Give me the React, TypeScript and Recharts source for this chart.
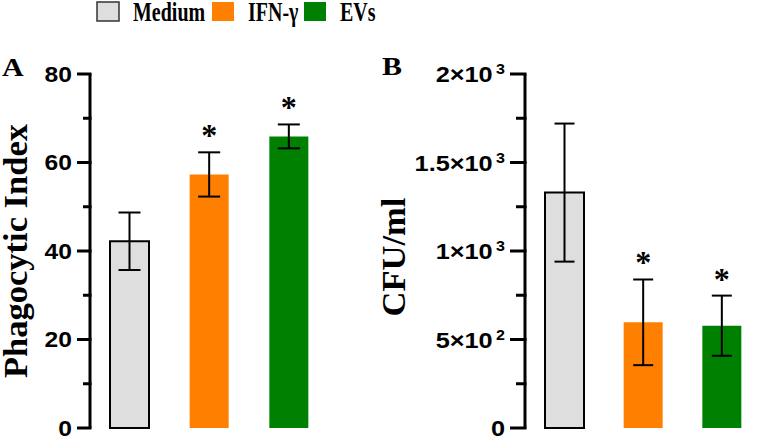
import React from 'react';
import { BarChart, Bar, XAxis, YAxis, ErrorBar, Cell, LabelList } from 'recharts';

const groups = ['Medium', 'IFN-γ', 'EVs'];
const colors = ['#dedede', '#ff8000', '#008000'];
const strokes = ['#000000', 'none', 'none'];

const phagoMean = [42.2, 57.3, 65.9];
const phagoSD = [6.5, 5.0, 2.7];
const phagoSig = [false, true, true];

const cfuMean = [1330, 597, 578];
const cfuSD = [390, 242, 170];
const cfuSig = [false, true, true];

const phagoTicks = [0, 10, 20, 30, 40, 50, 60, 70, 80];
const phagoMajor = [0, 20, 40, 60, 80];
const phagoLabels = ['0', '20', '40', '60', '80'];

const cfuTicks = [0, 250, 500, 750, 1000, 1250, 1500, 1750, 2000];
const cfuMajor = [0, 500, 1000, 1500, 2000];
const cfuBase = ['0', '5×10', '1×10', '1.5×10', '2×10'];
const cfuExp = ['', '2', '3', '3', '3'];

const dataA = groups.map((g, i) => ({ name: g, mean: phagoMean[i], sd: phagoSD[i] }));
const dataB = groups.map((g, i) => ({ name: g, mean: cfuMean[i], sd: cfuSD[i] }));

const SANS = '"Liberation Sans", Arial, sans-serif';
const SERIF = '"Liberation Serif", "Times New Roman", serif';

function makeTick(major: number[], longLen: number, shortLen: number, kind: 'A' | 'B') {
  return (props: any) => {
    const x = Number(props.x);
    const y = Number(props.y);
    const v = props.payload ? props.payload.value : 0;
    const mi = major.indexOf(v);
    const isMajor = mi >= 0;
    const len = isMajor ? longLen : shortLen;
    const tx = x - longLen - 5;
    const textStyle: React.CSSProperties = { fontFamily: SANS, fontWeight: 700, fill: '#000' };
    return (
      <g>
        <rect x={x - len} y={y - 1.5} width={len + 1.5} height={3} fill="#000" />
        {isMajor && kind === 'A' && (
          <text transform={`translate(${tx}, ${y}) scale(1.12, 1)`} dy="0.36em" textAnchor="end" style={{ ...textStyle, fontSize: 22 }}>
            {phagoLabels[mi]}
          </text>
        )}
        {isMajor && kind === 'B' && (
          <text transform={`translate(${tx}, ${y}) scale(1.15, 1)`} dy="0.37em" textAnchor="end" style={{ ...textStyle, fontSize: 22 }}>
            <tspan>{cfuBase[mi]}</tspan>
            {cfuExp[mi] && (
              <tspan dx={3} dy={-8} style={{ fontSize: 14 }}>
                {cfuExp[mi]}
              </tspan>
            )}
          </text>
        )}
      </g>
    );
  };
}

function makeStar(sds: number[], sig: boolean[]) {
  return (props: any) => {
    const { x, y, width, height, value, index } = props;
    if (index == null || !sig[index]) return null;
    const k = height / value;
    const top = y - sds[index] * k;
    return (
      <text x={x + width / 2} y={top - 6} textAnchor="middle" style={{ fontFamily: SERIF, fontWeight: 700, fontSize: 32, fill: '#000' }}>
        *
      </text>
    );
  };
}

function yTitle(text: string, dx: number, dyOff: number) {
  return (p: any) => {
    const vb = p.viewBox || { x: 0, y: 74, width: 90, height: 354 };
    const cx = vb.x + dx;
    const cy = vb.y + vb.height / 2 + dyOff;
    return (
      <text transform={`translate(${cx}, ${cy}) rotate(-90)`} textAnchor="middle" style={{ fontFamily: SERIF, fontWeight: 700, fontSize: 34.5, fill: '#000' }}>
        {text}
      </text>
    );
  };
}

function Panel(props: {
  data: any[];
  width: number;
  yWidth: number;
  right: number;
  domain: [number, number];
  ticks: number[];
  major: number[];
  kind: 'A' | 'B';
  longLen: number;
  shortLen: number;
  capW: number;
  sds: number[];
  sig: boolean[];
  title: string;
  titleDx: number;
  titleDy: number;
}) {
  return (
    <BarChart
      width={props.width}
      height={440}
      data={props.data}
      margin={{ top: 74, right: props.right, bottom: 12, left: 0 }}
      barSize={39}
    >
      <XAxis
        dataKey="name"
        height={0}
        tick={false}
        tickLine={false}
        stroke="#000"
        strokeWidth={3}
        axisLine={{ stroke: '#000', strokeWidth: 3 }}
      />
      <YAxis
        width={props.yWidth}
        domain={props.domain}
        ticks={props.ticks}
        interval={0}
        tickSize={0}
        tickMargin={0}
        tickLine={false}
        stroke="#000"
        strokeWidth={3}
        axisLine={{ stroke: '#000', strokeWidth: 3 }}
        tick={makeTick(props.major, props.longLen, props.shortLen, props.kind)}
        label={{ content: yTitle(props.title, props.titleDx, props.titleDy) }}
      />
      <Bar dataKey="mean" isAnimationActive={false}>
        {props.data.map((d, i) => (
          <Cell key={d.name} fill={colors[i]} stroke={strokes[i]} strokeWidth={strokes[i] === 'none' ? 0 : 2} />
        ))}
        <ErrorBar dataKey="sd" width={props.capW} strokeWidth={2} stroke="#000" direction="y" />
        <LabelList dataKey="mean" content={makeStar(props.sds, props.sig)} />
      </Bar>
    </BarChart>
  );
}

export default function App() {
  const legendX = [97, 212, 304];
  const legendTextX = [133, 248, 340];
  return (
    <div style={{ position: 'absolute', left: 0, top: 0, width: 762, height: 440, background: '#fff', overflow: 'hidden' }}>
      <div style={{ position: 'absolute', left: 0, top: 0 }}>
        <Panel
          data={dataA}
          width={380}
          yWidth={90}
          right={51}
          domain={[0, 80]}
          ticks={phagoTicks}
          major={phagoMajor}
          kind="A"
          longLen={13}
          shortLen={7}
          capW={11}
          sds={phagoSD}
          sig={phagoSig}
          title="Phagocytic Index"
          titleDx={27}
          titleDy={0}
        />
      </div>
      <div style={{ position: 'absolute', left: 380, top: 0 }}>
        <Panel
          data={dataB}
          width={382}
          yWidth={145}
          right={1}
          domain={[0, 2000]}
          ticks={cfuTicks}
          major={cfuMajor}
          kind="B"
          longLen={15}
          shortLen={9}
          capW={10}
          sds={cfuSD}
          sig={cfuSig}
          title="CFU/ml"
          titleDx={25}
          titleDy={6}
        />
      </div>
      <svg width={762} height={440} style={{ position: 'absolute', left: 0, top: 0, pointerEvents: 'none' }}>
        {groups.map((g, i) => (
          <g key={g}>
            <rect
              x={legendX[i]}
              y={2}
              width={22}
              height={19}
              fill={colors[i]}
              stroke={i === 0 ? '#333' : 'none'}
              strokeWidth={i === 0 ? 1.5 : 0}
            />
            <text
              transform={`translate(${legendTextX[i]}, 21) scale(0.74, 1)`}
              style={{ fontFamily: SERIF, fontWeight: 700, fontSize: 27, fill: '#000' }}
            >
              {g}
            </text>
          </g>
        ))}
        <text transform="translate(2, 76) scale(1.2, 1)" style={{ fontFamily: SERIF, fontWeight: 700, fontSize: 25, fill: '#000' }}>
          A
        </text>
        <text transform="translate(382, 75) scale(1.2, 1)" style={{ fontFamily: SERIF, fontWeight: 700, fontSize: 25, fill: '#000' }}>
          B
        </text>
      </svg>
    </div>
  );
}
